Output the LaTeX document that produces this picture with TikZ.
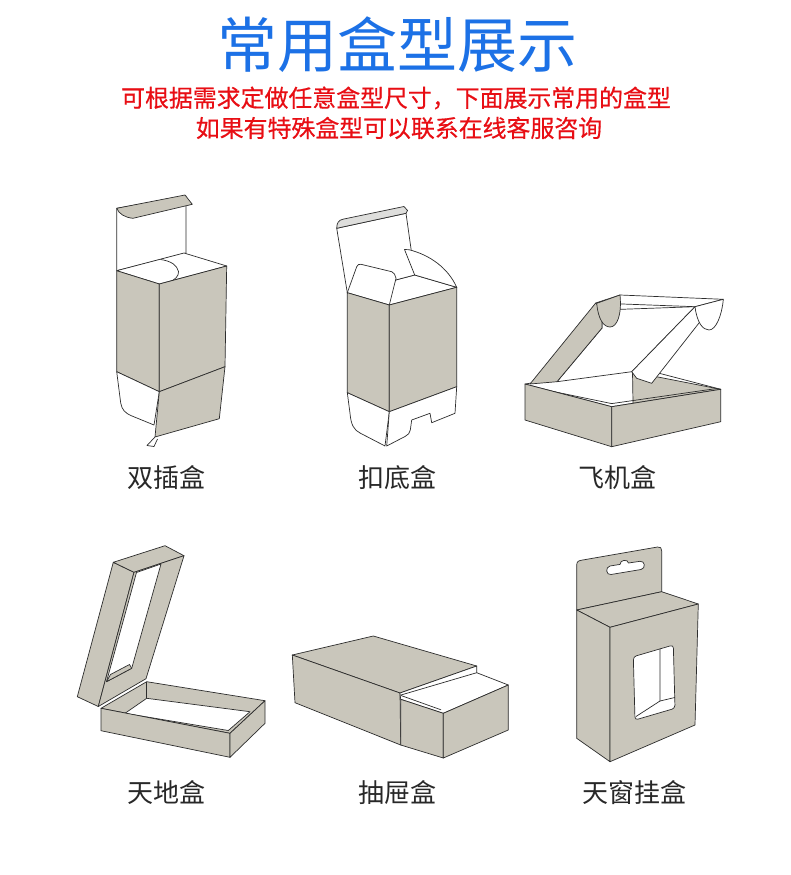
\documentclass[tikz,border=0pt]{standalone}
\usepackage{fontspec}
\newfontfamily\cjk{Noto Sans CJK SC}
\newfontfamily\cjkb[FakeBold=0.5]{Noto Sans CJK SC}
\definecolor{bx}{RGB}{201,198,187}
\definecolor{lnc}{RGB}{45,45,45}
\definecolor{lgr}{RGB}{222,222,220}
\definecolor{ttl}{RGB}{28,113,230}
\definecolor{subc}{RGB}{232,14,20}
\definecolor{lab}{RGB}{40,40,40}
\begin{document}
\begin{tikzpicture}[x=1pt,y=-1pt,
  ln/.style={draw=lnc,line width=0.7pt,line join=round},
  g/.style={ln,fill=bx},
  w/.style={ln,fill=white},
  subt/.style={inner sep=0pt,text=subc,font=\cjkb\fontsize{23.9}{24}\selectfont},
  lbl/.style={inner sep=0pt,text=lab,font=\cjk\fontsize{26}{26}\selectfont}]
\useasboundingbox (0,0) rectangle (790,875);
\fill[white] (0,0) rectangle (790,875);

% ---------- titles
\node[inner sep=0pt,text=ttl,font=\cjk\fontsize{60}{60}\selectfont] (title) at (397,45) {常用盒型展示};
\node[subt] (sub1) at (396,98) {可根据需求定做任意盒型尺寸，下面展示常用的盒型};
\node[subt] (sub2) at (399,128) {如果有特殊盒型可以联系在线客服咨询};

% ---------- box 1 (double tuck)
\draw[w] (116.7,208.3) -- (186,196) -- (186,253) -- (116.7,270.7) -- cycle;
\draw[g] (116.7,208.3) -- (185,195) -- (192.3,204.3) -- (133,218.3) .. controls (125,217.5) and (119,214) .. (116.7,208.3) -- cycle;
\draw[w] (116.7,270.7) -- (184,253) -- (226.7,266) -- (159.3,284) -- cycle;
\draw[ln] (160.5,259.5) .. controls (171,261) and (177,265) .. (178.5,271.5) .. controls (179,276) and (175,280) .. (168.3,282.5);
\draw[g] (116.7,270.7) -- (159.3,284) -- (159.3,391.7) -- (116.7,371.7) -- cycle;
\draw[g] (159.3,284) -- (226.7,266) -- (225,366.7) -- (159.3,391.7) -- cycle;
\draw[w] (116.7,371.7) -- (120.7,403) .. controls (122,410) and (125,413) .. (132,416) -- (154,425) -- (159.3,391.7) -- cycle;
\draw[g] (159.3,391.7) -- (225,366.7) -- (219.3,418.7) -- (155,437) -- cycle;
\draw[w] (155,437) -- (147,445.5) -- (154,446.5) -- (157.5,439) ;

% ---------- box 2 (crash lock bottom)
\draw[w] (347.3,292.7) -- (414.7,275) -- (456.7,287.3) -- (389.3,305) -- cycle;
\draw[w] (336.7,228.3) -- (406,213.3) -- (414.7,275) -- (347.3,292.7) -- cycle;
\draw[ln,fill=lgr] (336.7,228.3) .. controls (336.7,222.5) and (339,220) .. (343,219.2) -- (404,206.5) -- (407.5,210.5) -- (406,213.3) -- cycle;
\draw[w] (414.7,275) -- (404.5,249.5) -- (409,249.7) .. controls (430,255) and (448,268) .. (456.7,287.3) -- cycle;
\draw[w] (347.3,292.7) -- (356.7,266.7) .. controls (357.5,264.5) and (359,264) .. (361,264.3) -- (391.7,271.7) .. controls (394,272.5) and (395.5,275) .. (396,278.3) -- (389.3,305) -- cycle;
\draw[g] (347.3,292.7) -- (389.3,305) -- (389.3,411.7) -- (347.3,392.7) -- cycle;
\draw[g] (389.3,305) -- (456.7,287.3) -- (456.7,386.7) -- (389.3,411.7) -- cycle;
\draw[w] (347.3,392.7) -- (350,413.3) .. controls (351,425) and (354,430) .. (360,433) -- (385,446) -- (389.3,411.7) -- cycle;
\draw[w] (389.3,411.7) -- (456.7,386.7) -- (455,413.3) -- (431.7,422.7) -- (430,413.3) -- (411.7,420) -- (410.3,430) .. controls (410,433) and (408,435) .. (405,436.5) -- (386.7,446) -- cycle;

% ---------- box 3 (mailer)
\draw[w] (525,384) -- (634,366.7) -- (720.7,389.3) -- (611.7,406.7) -- cycle;
\draw[g] (632.5,372) -- (720.7,389.3) -- (633,403.3) -- cycle;
\draw[ln] (529,386.5) -- (611.7,403.6) -- (716,388.6);
\draw[g] (525,384) -- (611.7,406.7) -- (611.7,446.7) -- (525,420) -- cycle;
\draw[g] (611.7,406.7) -- (720.7,389.3) -- (720.7,421.7) -- (611.7,446.7) -- cycle;
\draw[w] (557,381.7) -- (602,328) -- (601.7,310) -- (695,306.7) -- (631.7,371.7) -- cycle;
\draw[g] (530,384) -- (595.7,303) -- (601.7,310) -- (602,328) -- (557,381.7) -- cycle;
\draw[w] (595.7,303) -- (620,295) -- (723.3,299.3) -- (695,306.7) -- cycle;
\draw[g] (596.7,303.3) .. controls (598,318) and (603,327) .. (610,327) .. controls (617,327) and (622,315) .. (620,295) -- cycle;
\draw[w] (695,306.7) -- (700,321.7) -- (651.7,383.3) -- (636.7,378.3) -- (631.7,371.7) -- cycle;
\draw[w] (695,306.7) .. controls (697,323) and (703,330) .. (709,330) .. controls (716,330) and (722,315) .. (723.3,299.3) -- cycle;

% ---------- box 4 (lid and base)
\draw[g] (113.3,562.3) -- (134,572.3) -- (98.3,706.5) -- (77.3,696.7) -- cycle;
\draw[g] (113.3,562.3) -- (165,545.7) -- (184,555.7) -- (134,572.3) -- cycle;
\draw[g] (134,572.3) -- (184,555.7) -- (146,678.7) -- (98.3,706.5) -- cycle;
\draw[w] (136.5,572.5) -- (161,564) -- (131.7,668.3) -- (106.5,681.7) -- cycle;
\draw[ln,fill=bx] (106.5,681.7) -- (131.7,668.3) -- (129.5,664.5) -- (110.5,674.5) -- cycle;
\draw[g] (101,708.3) -- (146.7,681.7) -- (265,700.7) -- (230,733.3) -- cycle;
\draw[w] (125,713.3) -- (146.7,698.3) -- (250,711.7) -- (228.3,730.5) -- cycle;
\draw[ln] (146.7,681.7) -- (146.7,698.3);
\draw[g] (101,708.3) -- (230,733.3) -- (230,757.3) -- (101,730.7) -- cycle;
\draw[g] (230,733.3) -- (265,700.7) -- (265,723.3) -- (230,757.3) -- cycle;

% ---------- box 5 (drawer)
\draw[g] (292.3,655) -- (373.3,636) -- (476.7,666) -- (400,693) -- cycle;
\draw[g] (292.3,655) -- (400,693) -- (400.7,745) -- (295,702.7) -- cycle;
\draw[w] (400,693) -- (476.7,666) -- (476.7,672.7) -- (508.3,685) -- (443.3,713.3) -- (400.7,699.3) -- cycle;
\draw[ln] (401,695) -- (476.7,672.7);
\draw[ln] (401,695.5) -- (441,709.8);
\draw[g] (400.7,699.3) -- (443.3,713.3) -- (443.3,758) -- (400.7,745) -- cycle;
\draw[g] (443.3,713.3) -- (508.3,685) -- (508.3,730) -- (443.3,758) -- cycle;

% ---------- box 6 (hanging window box)
\draw[g] (576.7,610) -- (576.7,566) .. controls (576.7,562) and (577.5,561) .. (581,560.3) -- (657.5,547) .. controls (660.5,546.5) and (661.7,548) .. (661.7,551) -- (661.7,591.7) -- cycle;
\draw[w] (610,566) -- (620,564.4) .. controls (620,559.5) and (628,559) .. (628.5,563) -- (640,561.3) .. controls (645,560.5) and (646,568.5) .. (641,569.5) -- (611,574.5) .. controls (606,575.5) and (605,567) .. (610,566) -- cycle;
\draw[g] (576.7,610) -- (661.7,591.7) -- (698.3,604) -- (610,627.3) -- cycle;
\draw[g] (576.7,610) -- (610,627.3) -- (610,761.7) -- (576.7,738.3) -- cycle;
\draw[g] (610,627.3) -- (698.3,604) -- (695,725) -- (610,761.7) -- cycle;
\draw[w,rounded corners=3pt] (633.3,656.7) -- (673.3,645) -- (675,708.3) -- (635,720) -- cycle;
\draw[ln] (660,648.5) -- (660,701) -- (636,716.5);
\draw[ln] (660,701) -- (674.8,697.5);

% ---------- labels
\node[lbl] (l1) at (166,478) {双插盒};
\node[lbl] (l2) at (397,478) {扣底盒};
\node[lbl] (l3) at (617,478) {飞机盒};
\node[lbl] (l4) at (166,793) {天地盒};
\node[lbl] (l5) at (397,793) {抽屉盒};
\node[lbl] (l6) at (634,793) {天窗挂盒};
\end{tikzpicture}
\end{document}
